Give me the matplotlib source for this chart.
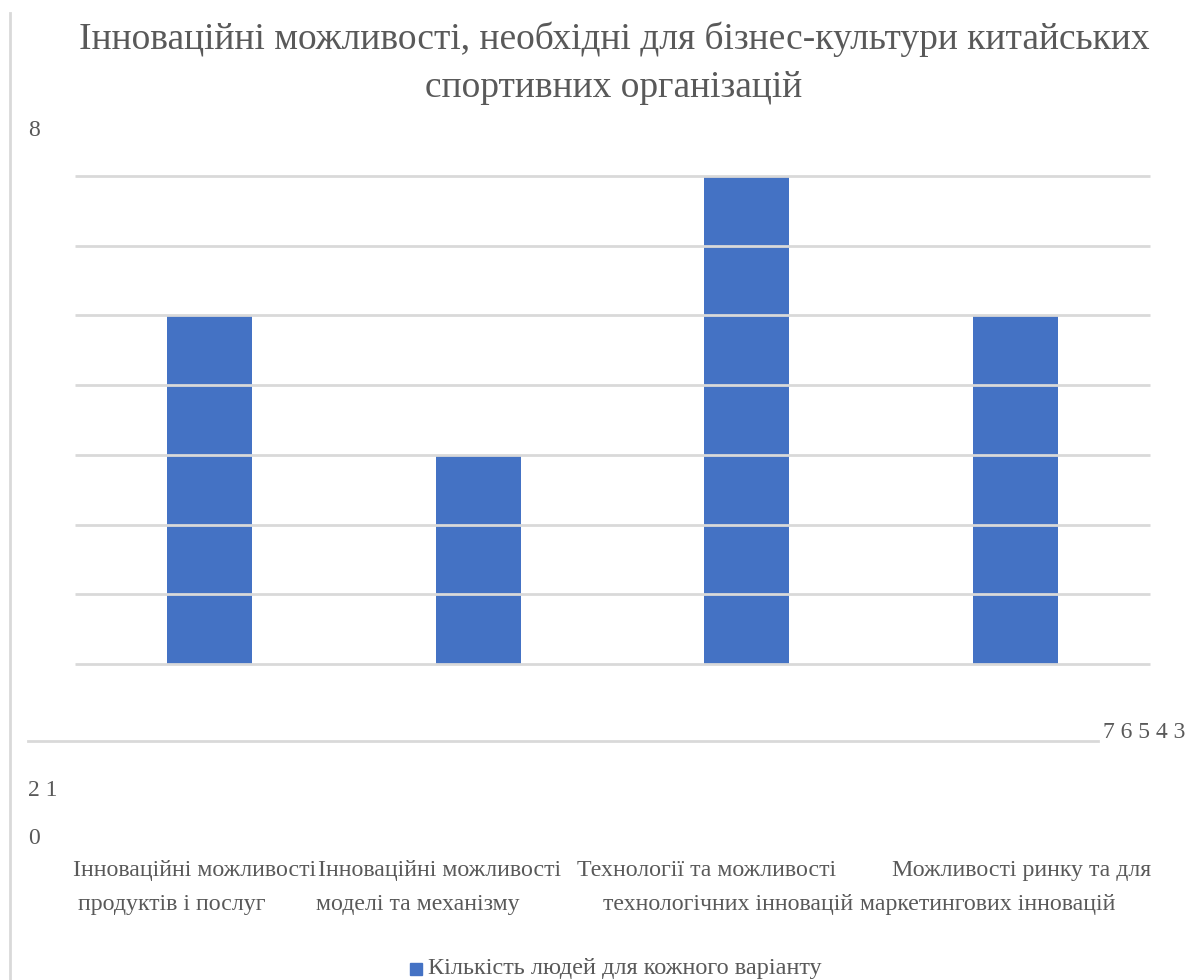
import matplotlib
matplotlib.use("Agg")
import matplotlib.pyplot as plt
from matplotlib.lines import Line2D
from matplotlib.patches import Rectangle

# Data
categories = [
    "Інноваційні можливості продуктів і послуг",
    "Інноваційні можливості моделі та механізму",
    "Технології та можливості технологічних інновацій",
    "Можливості ринку та для маркетингових інновацій",
]
values = [5, 3, 7, 5]
series_name = "Кількість людей для кожного варіанту"
title = "Інноваційні можливості, необхідні для бізнес-культури китайських\nспортивних організацій"
axis_ticks = [8, 7, 6, 5, 4, 3, 2, 1, 0]

# Category label lines as they wrap under the axis
label_row1 = ["Інноваційні можливості", "Інноваційні можливості",
              "Технології та можливості", "Можливості ринку та для"]
label_row2 = ["продуктів і послуг", "моделі та механізму",
              "технологічних інновацій", "маркетингових інновацій"]

BAR_COLOR = "#4472C4"
GRID_COLOR = "#D9D9D9"
TEXT_COLOR = "#595959"
FONT = "Liberation Serif"

W, H = 1203, 980
fig = plt.figure(figsize=(W / 100, H / 100), dpi=100)
fig.patch.set_facecolor("white")

def fx(px):
    return px / W

def fy(py):
    return 1 - py / H

# Plot area
ax = fig.add_axes([fx(75), fy(664), fx(1150) - fx(75), fy(176) - fy(664)])
x = range(len(categories))
ax.bar(x, values, width=0.316, color=BAR_COLOR, zorder=1)
ax.set_xlim(-0.5, len(categories) - 0.5)
ax.set_ylim(0, 7)
for t in range(0, 8):
    ax.axhline(t, color=GRID_COLOR, lw=2, zorder=3, clip_on=False,
               solid_capstyle="butt")
ax.set_xticks([])
ax.set_yticks([])
for s in ax.spines.values():
    s.set_visible(False)
ax.patch.set_alpha(0)

# Left border line and stray axis line
fig.add_artist(Line2D([fx(10), fx(10)], [fy(13), fy(980)], color=GRID_COLOR, lw=2))
fig.add_artist(Line2D([fx(28), fx(1098)], [fy(741), fy(741)], color=GRID_COLOR, lw=2))

tick_kw = dict(fontsize=17, color=TEXT_COLOR, family=FONT, va="center")
fig.text(fx(28), fy(130), str(axis_ticks[0]), ha="left", **tick_kw)
fig.text(fx(1185), fy(733), " ".join(str(v) for v in axis_ticks[1:6]), ha="right", **tick_kw)
fig.text(fx(28), fy(790), " ".join(str(v) for v in axis_ticks[6:8]), ha="left", **tick_kw)
fig.text(fx(28), fy(838), str(axis_ticks[8]), ha="left", **tick_kw)

# Title
fig.text(fx(614), fy(63), title, ha="center", va="center", fontsize=27,
         color=TEXT_COLOR, family=FONT, linespacing=1.5)

# Category labels
lab_kw = dict(fontsize=17.2, color=TEXT_COLOR, family=FONT, va="center", ha="left")
for px, s in zip([73, 318, 577, 892], label_row1):
    fig.text(fx(px), fy(870), s, **lab_kw)
for px, s in zip([78, 316, 603, 860], label_row2):
    fig.text(fx(px), fy(904), s, **lab_kw)

# Legend
fig.add_artist(Rectangle((fx(410), fy(975)), 12 / W, 12 / H,
                         color=BAR_COLOR, transform=fig.transFigure))
fig.text(fx(428), fy(968), series_name, fontsize=17.5, color=TEXT_COLOR,
         family=FONT, va="center", ha="left")

fig.savefig("out.png", dpi=100, facecolor="white")
